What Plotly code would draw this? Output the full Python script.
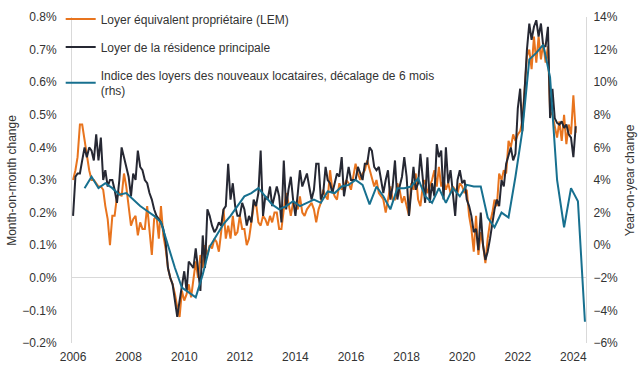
import pandas as pd
import plotly.graph_objects as go

# Monthly MoM % changes, Jan 2006 - Feb 2024
lem = [
    0.30, 0.33, 0.37, 0.47, 0.47, 0.42, 0.37, 0.33, 0.30, 0.30, 0.29, 0.28,  # 2006
    0.28, 0.27, 0.22, 0.18, 0.10, 0.19, 0.19, 0.25, 0.26, 0.25, 0.32, 0.28,  # 2007
    0.22, 0.16, 0.18, 0.19, 0.13, 0.17, 0.15, 0.15, 0.22, 0.15, 0.07, 0.18,  # 2008
    0.19, 0.12, 0.22, 0.13, 0.09, 0.03, 0.00, -0.02, -0.05, -0.09, -0.12, -0.04,  # 2009
    -0.07, -0.05, -0.02, -0.06, -0.01, 0.05, 0.00, 0.07, 0.03, 0.10, 0.07, 0.10,  # 2010
    0.09, 0.12, 0.11, 0.08, 0.14, 0.21, 0.12, 0.16, 0.12, 0.19, 0.13, 0.14,  # 2011
    0.19, 0.15, 0.15, 0.10, 0.12, 0.18, 0.22, 0.23, 0.17, 0.16, 0.19, 0.18,  # 2012
    0.16, 0.19, 0.17, 0.20, 0.20, 0.15, 0.15, 0.21, 0.26, 0.23, 0.19, 0.23,  # 2013
    0.23, 0.21, 0.25, 0.20, 0.19, 0.21, 0.22, 0.23, 0.21, 0.17, 0.21, 0.23,  # 2014
    0.27, 0.25, 0.24, 0.33, 0.27, 0.25, 0.24, 0.29, 0.27, 0.28, 0.30, 0.29,  # 2015
    0.27, 0.31, 0.35, 0.32, 0.30, 0.32, 0.33, 0.36, 0.33, 0.31, 0.28, 0.30,  # 2016
    0.26, 0.25, 0.24, 0.20, 0.24, 0.28, 0.24, 0.24, 0.29, 0.27, 0.23, 0.25,  # 2017
    0.22, 0.19, 0.29, 0.27, 0.32, 0.24, 0.22, 0.28, 0.30, 0.26, 0.28, 0.30,  # 2018
    0.33, 0.28, 0.34, 0.28, 0.30, 0.27, 0.29, 0.26, 0.28, 0.27, 0.26, 0.29,  # 2019
    0.28, 0.26, 0.27, 0.19, 0.15, 0.08, 0.19, 0.07, 0.14, 0.10, 0.045, 0.12,  # 2020
    0.17, 0.20, 0.24, 0.22, 0.32, 0.30, 0.33, 0.32, 0.42, 0.40, 0.44, 0.42,  # 2021
    0.44, 0.45, 0.48, 0.58, 0.68, 0.70, 0.64, 0.74, 0.66, 0.74, 0.67, 0.72,  # 2022
    0.66, 0.71, 0.51, 0.50, 0.46, 0.43, 0.48, 0.42, 0.50, 0.41, 0.47, 0.44,  # 2023
    0.56, 0.445,  # 2024
]

loyer = [
    0.19, 0.31, 0.32, 0.32, 0.36, 0.40, 0.37, 0.40, 0.39, 0.36, 0.44, 0.36,  # 2006
    0.43, 0.30, 0.33, 0.28, 0.30, 0.30, 0.27, 0.23, 0.30, 0.40, 0.37, 0.34,  # 2007
    0.31, 0.25, 0.32, 0.30, 0.39, 0.34, 0.33, 0.30, 0.29, 0.26, 0.24, 0.21,  # 2008
    0.19, 0.18, 0.17, 0.15, 0.11, 0.03, 0.00, -0.02, -0.07, -0.12, -0.07, -0.02,  # 2009
    0.02, -0.04, 0.05, 0.04, 0.03, 0.09, 0.03, -0.04, 0.13, 0.03, 0.21, 0.19,  # 2010
    0.16, 0.14, 0.15, 0.17, 0.16, 0.21, 0.22, 0.35, 0.24, 0.29, 0.22, 0.19,  # 2011
    0.19, 0.23, 0.21, 0.16, 0.19, 0.17, 0.24, 0.22, 0.26, 0.39, 0.19, 0.25,  # 2012
    0.24, 0.28, 0.22, 0.25, 0.28, 0.25, 0.17, 0.36, 0.21, 0.27, 0.31, 0.24,  # 2013
    0.19, 0.26, 0.33, 0.28, 0.30, 0.32, 0.28, 0.24, 0.27, 0.35, 0.35, 0.24,  # 2014
    0.26, 0.34, 0.30, 0.29, 0.26, 0.29, 0.32, 0.31, 0.37, 0.25, 0.30, 0.34,  # 2015
    0.30, 0.30, 0.30, 0.34, 0.32, 0.30, 0.35, 0.35, 0.40, 0.39, 0.34, 0.33,  # 2016
    0.34, 0.30, 0.26, 0.30, 0.33, 0.24, 0.28, 0.36, 0.24, 0.28, 0.31, 0.37,  # 2017
    0.31, 0.19, 0.27, 0.34, 0.27, 0.29, 0.38, 0.30, 0.23, 0.37, 0.23, 0.29,  # 2018
    0.25, 0.41, 0.37, 0.39, 0.24, 0.40, 0.29, 0.33, 0.25, 0.19, 0.30, 0.33,  # 2019
    0.29, 0.30, 0.24, 0.22, 0.19, 0.14, 0.15, 0.085, 0.20, 0.10, 0.055, 0.08,  # 2020
    0.12, 0.17, 0.21, 0.24, 0.22, 0.30, 0.28, 0.35, 0.38, 0.40, 0.36, 0.38,  # 2021
    0.52, 0.58, 0.45, 0.58, 0.70, 0.78, 0.73, 0.77, 0.79, 0.74, 0.78, 0.71,  # 2022
    0.71, 0.77, 0.49, 0.58, 0.49, 0.475, 0.47, 0.48, 0.46, 0.47, 0.44, 0.43,  # 2023
    0.37, 0.465,  # 2024
]

# Quarterly YoY %, new tenant rent index, lagged 6 months (Jun 2006 - Jun 2024)
ntri = [
    3.5, 4.2, 3.5,                 # 2006 Jun-Dec
    3.8, 3.5, 3.1, 3.2,            # 2007
    2.8, 2.4, 2.1, 1.8,            # 2008
    1.4, 0.0, -1.4, -2.6,          # 2009
    -2.9, -3.2, -1.8, -0.1,        # 2010
    0.6, 1.3, 1.8, 2.4,            # 2011
    3.0, 3.2, 3.5, 3.0,            # 2012
    2.5, 2.2, 2.4, 2.7,            # 2013
    2.4, 2.6, 2.8, 2.6,            # 2014
    3.3, 3.2, 3.6, 3.7,            # 2015
    4.0, 3.7, 2.5, 3.6,            # 2016
    3.0, 2.2, 3.5, 3.5,            # 2017
    3.6, 4.1, 3.0, 2.6,            # 2018
    3.5, 2.6, 3.5, 3.0,            # 2019
    3.7, 3.6, 3.6, 1.7,            # 2020
    1.1, 2.0, 1.7, 4.2,            # 2021
    7.0, 11.4, 11.8, 12.3,         # 2022
    10.3, 4.0, 1.1, 3.5,           # 2023
    2.7, -4.7,                     # 2024
]

months = pd.date_range("2006-01-01", periods=len(lem), freq="MS")
quarters = pd.date_range("2006-06-01", periods=len(ntri), freq="3MS")

year_ticks = [str(y) for y in range(2006, 2025, 2)]

names = [
    "Loyer équivalent propriétaire (LEM)",
    "Loyer de la résidence principale",
    "Indice des loyers des nouveaux locataires, décalage de 6 mois<br>(rhs)",
]
colors = ["#E8741E", "#262833", "#17708F"]

FONT = "Liberation Sans, Arial, sans-serif"
TXT = "#333333"

fig = go.Figure()
fig.add_trace(go.Scatter(x=months, y=lem, mode="lines", name=names[0],
                         line=dict(color=colors[0], width=2), legendgroup="a"))
fig.add_trace(go.Scatter(x=months, y=loyer, mode="lines", name=names[1],
                         line=dict(color=colors[1], width=2), legendgroup="b"))
fig.add_trace(go.Scatter(x=quarters, y=ntri, mode="lines", name=names[2],
                         line=dict(color=colors[2], width=2), legendgroup="c",
                         yaxis="y2"))

fig.update_layout(
    width=640, height=373,
    margin=dict(l=72, r=54, t=17, b=30, autoexpand=False),
    paper_bgcolor="white", plot_bgcolor="white",
    font=dict(family=FONT, size=12, color=TXT),
    showlegend=True,
    legend=dict(x=-0.022, y=1.038, xanchor="left", yanchor="top",
                bgcolor="rgba(0,0,0,0)", font=dict(size=12, color=TXT),
                tracegroupgap=9, itemwidth=30, traceorder="grouped"),
    xaxis=dict(
        type="date",
        range=["2005-12-18", "2024-06-15"],
        tickvals=[pd.Timestamp(f"{y}-01-01") for y in year_ticks],
        ticktext=year_ticks,
        showgrid=False, zeroline=False, showline=False, ticks="",
        ticklabelstandoff=5,
        tickfont=dict(size=12, color=TXT),
    ),
    yaxis=dict(
        range=[-0.2, 0.8], dtick=0.1, tick0=0,
        tickformat=".1f", ticksuffix="%",
        showgrid=False, zeroline=True, zerolinecolor="#D9D9D9", zerolinewidth=1,
        showline=True, linecolor="#D9D9D9", linewidth=1, ticks="",
        ticklabelstandoff=12,
        tickfont=dict(size=12, color=TXT),
    ),
    yaxis2=dict(
        range=[-6, 14], dtick=2, tick0=0,
        tickformat="d", ticksuffix="%",
        overlaying="y", side="right",
        showgrid=False, zeroline=False,
        showline=True, linecolor="#D9D9D9", linewidth=1, ticks="",
        ticklabelstandoff=4,
        tickfont=dict(size=12, color=TXT),
    ),
    annotations=[
        dict(text="Month-on-month change", xref="paper", yref="paper",
             x=-0.117, y=0.5, xanchor="center", yanchor="middle",
             textangle=-90, showarrow=False, font=dict(size=12, color=TXT)),
        dict(text="Year-on-year change", xref="paper", yref="paper",
             x=1.086, y=0.5, xanchor="center", yanchor="middle",
             textangle=-90, showarrow=False, font=dict(size=12, color=TXT)),
    ],
)

fig.write_html("out.html",
               config={"displayModeBar": False},
               post_script="document.body.style.margin='0px';document.body.style.padding='0px';")
